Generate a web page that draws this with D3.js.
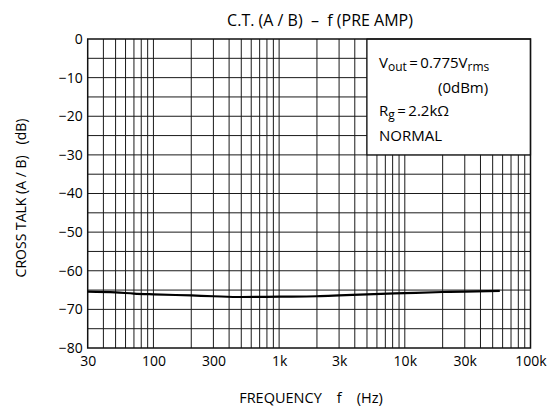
<!DOCTYPE html>
<html><head><meta charset="utf-8">
<script src="https://cdn.jsdelivr.net/npm/d3@7"></script>
<style>body{margin:0;background:#fff}svg{display:block}text{font-family:"Open Sans","DejaVu Sans",sans-serif;fill:#000}</style>
</head><body><svg id="c" width="552" height="412"></svg>
<script>
const freqs = [30, 50, 70, 100, 200, 300, 500, 1000, 2000, 3000, 5000, 10000, 20000, 30000, 57000];
const crossTalk = [-65.4, -65.6, -65.9, -66.1, -66.4, -66.6, -66.8, -66.7, -66.6, -66.4, -66.1, -65.8, -65.5, -65.4, -65.2];
const xTicks = [30, 100, 300, 1000, 3000, 10000, 30000, 100000];
const xTickLabels = ["30", "100", "300", "1k", "3k", "10k", "30k", "100k"];
const yTicks = [0, -10, -20, -30, -40, -50, -60, -70, -80];
const yTickLabels = ["0", "\u221210", "\u221220", "\u221230", "\u221240", "\u221250", "\u221260", "\u221270", "\u221280"];

const svg = d3.select("#c");
const L = 87.7, R = 530.5, T = 39, B = 348;
const x = d3.scaleLog().domain([30, 100000]).range([L, R]);
const y = d3.scaleLinear().domain([-80, 0]).range([B, T]);

// grid lines
const minor = [];
for (let d = 10; d <= 100000; d *= 10) for (let m = 1; m <= 9; m++) { const f = d * m; if (f > 30 && f < 100000) minor.push(f); }
const g = svg.append("g");
g.selectAll("line.v").data(minor).join("line")
  .attr("x1", d => x(d)).attr("x2", d => x(d)).attr("y1", T).attr("y2", B)
  .attr("stroke", "#1a1a1a").attr("stroke-width", 1);
const hy = d3.range(-75, 0, 5);
g.selectAll("line.h").data(hy).join("line")
  .attr("x1", L).attr("x2", R).attr("y1", d => y(d)).attr("y2", d => y(d))
  .attr("stroke", "#1a1a1a").attr("stroke-width", 1);

// legend box
const bx = x(5000), by = y(0), bh = y(-30) - y(0);
svg.append("rect").attr("x", bx).attr("y", by).attr("width", R - bx).attr("height", bh)
  .attr("fill", "#fff").attr("stroke", "#111").attr("stroke-width", 1.2);

// frame
svg.append("rect").attr("x", L).attr("y", T).attr("width", R - L).attr("height", B - T)
  .attr("fill", "none").attr("stroke", "#111").attr("stroke-width", 1.5);

// curve
svg.append("path").datum(freqs.map((f, i) => [f, crossTalk[i]]))
  .attr("d", d3.line().x(d => x(d[0])).y(d => y(d[1])).curve(d3.curveMonotoneX))
  .attr("fill", "none").attr("stroke", "#000").attr("stroke-width", 2.2);

// axes labels
const xAxis = d3.axisBottom(x).tickValues(xTicks).tickFormat((d, i) => xTickLabels[i]).tickSize(0).tickPadding(8);
const xa = svg.append("g").attr("transform", `translate(0,${B})`).call(xAxis);
xa.select(".domain").remove();
xa.selectAll("text").attr("font-size", 14).attr("font-family", "Open Sans, DejaVu Sans, sans-serif").attr("fill", "#000");

const yAxis = d3.axisLeft(y).tickValues(yTicks).tickFormat((d, i) => yTickLabels[i]).tickSize(0).tickPadding(5);
const ya = svg.append("g").attr("transform", `translate(${L},0)`).call(yAxis);
ya.select(".domain").remove();
ya.selectAll("text").attr("font-size", 14).attr("font-family", "Open Sans, DejaVu Sans, sans-serif").attr("fill", "#000");

// title
svg.append("text").attr("x", 320).attr("y", 26).attr("text-anchor", "middle").attr("font-size", 16)
  .style("white-space", "pre").text("C.T. (A / B)  \u2013  f (PRE AMP)");
// x label
svg.append("text").attr("x", 311).attr("y", 403).attr("text-anchor", "middle").attr("font-size", 14.5)
  .style("white-space", "pre").text("FREQUENCY    f    (Hz)");
// y label
svg.append("text").attr("transform", "translate(26,198) rotate(-90)").attr("text-anchor", "middle").attr("font-size", 14)
  .style("white-space", "pre").text("CROSS TALK (A / B)   (dB)");

// legend text
const lt = svg.append("g").attr("font-size", 15);
const t1 = lt.append("text").attr("x", bx + 12).attr("y", 68);
t1.append("tspan").text("V");
t1.append("tspan").attr("font-size", 12).attr("dy", 3).text("out");
t1.append("tspan").attr("dy", -3).text("\u2009=\u20090.775V");
t1.append("tspan").attr("font-size", 12).attr("dy", 3).text("rms");
lt.append("text").attr("x", bx + 71).attr("y", 93).text("(0dBm)");
const t3 = lt.append("text").attr("x", bx + 12).attr("y", 116);
t3.append("tspan").text("R");
t3.append("tspan").attr("font-size", 12).attr("dy", 3).text("g");
t3.append("tspan").attr("dy", -3).text("\u2009=\u20092.2k\u03A9");
lt.append("text").attr("x", bx + 12).attr("y", 141).text("NORMAL");
</script></body></html>
